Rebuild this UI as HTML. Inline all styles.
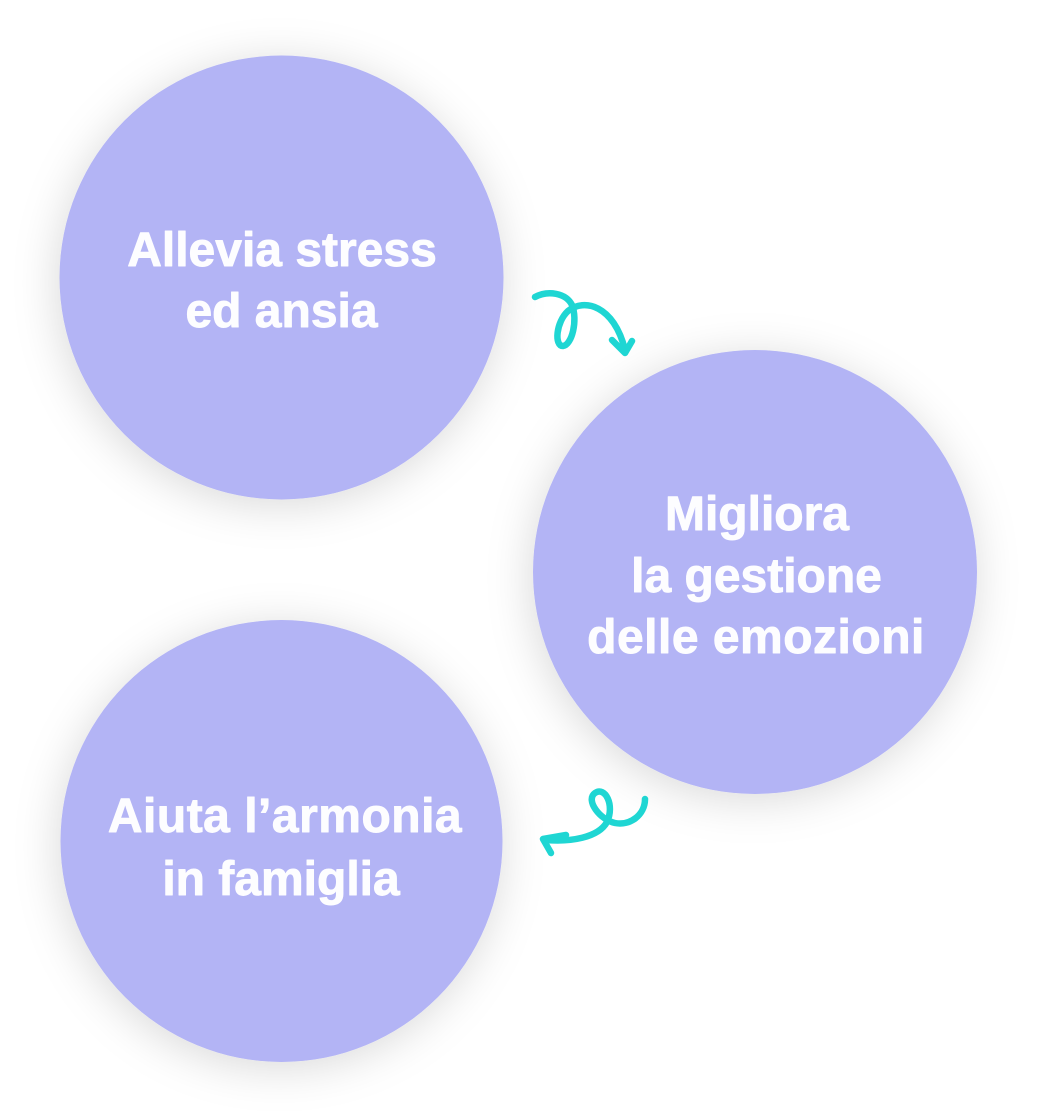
<!DOCTYPE html>
<html>
<head>
<meta charset="utf-8">
<style>
  html, body { margin: 0; padding: 0; background: #ffffff; }
  body { width: 1037px; height: 1119px; overflow: hidden; }
  svg { display: block; }
  text { font-family: "Liberation Sans", Arial, sans-serif; font-weight: 700; font-size: 48px; fill: #fdfdff; stroke: #fdfdff; stroke-width: 0.9px; stroke-linejoin: round; }
</style>
</head>
<body>
<svg width="1037" height="1119" viewBox="0 0 1037 1119" xmlns="http://www.w3.org/2000/svg">
  <defs>
    <filter id="sh" x="-35%" y="-35%" width="170%" height="170%">
      <feDropShadow dx="-2" dy="6" stdDeviation="22" flood-color="#000000" flood-opacity="0.15"/>
    </filter>
  </defs>
  <rect width="1037" height="1119" fill="#ffffff"/>

  <!-- Circles -->
  <circle cx="281.5" cy="277.5" r="222" fill="#b3b4f5" filter="url(#sh)"/>
  <circle cx="755" cy="572" r="222" fill="#b3b4f5" filter="url(#sh)"/>
  <circle cx="281.5" cy="841" r="221" fill="#b3b4f5" filter="url(#sh)"/>

  <!-- Circle 1 text -->
  <text x="282" y="266" text-anchor="middle">Allevia stress</text>
  <text x="281.5" y="327" text-anchor="middle">ed ansia</text>

  <!-- Circle 2 text -->
  <text x="757" y="530" text-anchor="middle">Migliora</text>
  <text x="756.5" y="592" text-anchor="middle">la gestione</text>
  <text x="756" y="653" text-anchor="middle" letter-spacing="0.5">delle emozioni</text>

  <!-- Circle 3 text -->
  <text x="285" y="832" text-anchor="middle" letter-spacing="0.5">Aiuta l’armonia</text>
  <text x="281" y="895" text-anchor="middle">in famiglia</text>

  <!-- Arrow 1 (top right, pointing down) -->
  <g fill="none" stroke="#1fd6d3" stroke-width="6.5" stroke-linecap="round" stroke-linejoin="round">
    <path d="M535,297 C548,290 566,293 572,305 C578,320 572,345 563,346 C554,346 556,322 568,311 C584,298 614,305 625,350"/>
    <path d="M612,340 L625,353 L632,341"/>
  </g>

  <!-- Arrow 2 (bottom, pointing left) -->
  <g fill="none" stroke="#1fd6d3" stroke-width="6.5" stroke-linecap="round" stroke-linejoin="round">
    <path d="M645,799 C645,815 630,826 615,823 C600,820 585,800 595,793 C605,786 615,805 607,822 C598,838 570,842 546,840"/>
    <path d="M566,835 L543,839 L551,853"/>
  </g>
</svg>
</body>
</html>
